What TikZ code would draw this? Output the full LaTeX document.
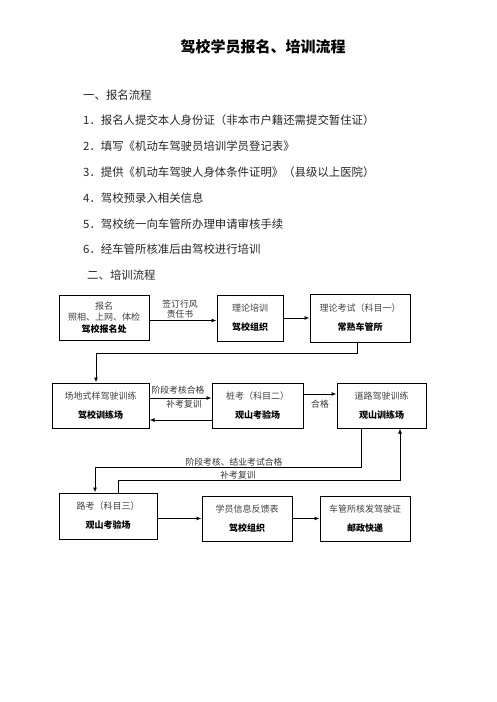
\documentclass[tikz,border=0pt]{standalone}
\usepackage{fontspec}
\setmainfont{Noto Sans CJK SC}
\usetikzlibrary{arrows.meta,positioning}
\tikzset{
  box/.style={draw,rectangle,line width=1pt,inner sep=1pt,align=center,font=\fontsize{9}{11}\selectfont,text=black!75},
  lbl/.style={font=\fontsize{8.8}{10.5}\selectfont,align=center,inner sep=0pt,text=black!80},
  txt/.style={anchor=west,font=\fontsize{11.4}{13}\selectfont,inner sep=0pt,text=black!85},
  arr/.style={-{Latex[length=5pt,width=4pt]},line width=1pt},
  ln/.style={line width=1pt}
}
\newcommand{\bt}[1]{\textbf{\color{black}#1}}

\begin{document}
\begin{tikzpicture}[x=1pt,y=-1pt]
\useasboundingbox (0,0) rectangle (496,702);

\node[font=\fontsize{15}{17}\selectfont\bfseries] (title) at (263,47) {驾校学员报名、培训流程};

\node[txt] (s1) at (83,95) {一、报名流程};
\node[txt] (l1) at (83,120) {1．报名人提交本人身份证（非本市户籍还需提交暂住证）};
\node[txt] (l2) at (83,146) {2．填写《机动车驾驶员培训学员登记表》};
\node[txt] (l3) at (83,172) {3．提供《机动车驾驶人身体条件证明》（县级以上医院）};
\node[txt] (l4) at (83,198) {4．驾校预录入相关信息};
\node[txt] (l5) at (83,224) {5．驾校统一向车管所办理申请审核手续};
\node[txt] (l6) at (83,249) {6．经车管所核准后由驾校进行培训};
\node[txt] (s2) at (87,275) {二、培训流程};

% first row
\node[box,minimum width=90pt,minimum height=45pt] (apply) at (104,317.5) {
报名\\[0.5pt]
照相、上网、体检\\[1pt]
\bt{驾校报名处}
};
\node[box,minimum width=66pt,minimum height=46pt] (theory) at (250,318) {
理论培训\\[8pt]
\bt{驾校组织}
};
\node[box,minimum width=100pt,minimum height=48pt] (exam1) at (360,318) {
理论考试（科目一）\\[8pt]
\bt{常熟车管所}
};

% second row
\node[box,minimum width=97pt,minimum height=45pt] (field) at (100.5,405.5) {
场地式样驾驶训练\\[8pt]
\bt{驾校训练场}
};
\node[box,minimum width=91pt,minimum height=45pt] (exam2) at (257.5,405.5) {
桩考（科目二）\\[8pt]
\bt{观山考验场}
};
\node[box,minimum width=89pt,minimum height=45pt] (road) at (381.5,405.5) {
道路驾驶训练\\[8pt]
\bt{观山训练场}
};

% third row
\node[box,minimum width=98pt,minimum height=46pt] (exam3) at (108,516) {
路考（科目三）\\[8pt]
\bt{观山考验场}
};
\node[box,minimum width=90pt,minimum height=45pt] (feedback) at (247,518.5) {
学员信息反馈表\\[8pt]
\bt{驾校组织}
};
\node[box,minimum width=90pt,minimum height=45pt] (license) at (365,518.5) {
车管所核发驾驶证\\[8pt]
\bt{邮政快递}
};

\draw[arr] ([yshift=-3pt]apply.east) -- ([yshift=-3pt]apply.east -| theory.west);
\draw[arr] (theory.east) -- (theory.east -| exam1.west);
\node[lbl] (sign) at (180,309) {签订行风\\责任书};

\draw[arr] ([xshift=-3pt]exam1.south) -- ++(0,11) -| ([xshift=-4.5pt]field.north);

\draw[arr] ([yshift=7.5pt]field.east) -- ([yshift=7.5pt]exam2.west);
\draw[arr] ([yshift=-14.5pt]exam2.west) -- ([yshift=-14.5pt]field.east);
\node[lbl] (pass1) at (178,390) {阶段考核合格};
\node[lbl] (redo1) at (184,404) {补考复训};

\draw[arr] ([yshift=11.5pt]exam2.east) -- ([yshift=11.5pt]road.west);
\node[lbl] (pass2) at (320,404) {合格};

\draw[arr] ([xshift=-20.5pt]road.south) -- ++(0,39) -| ([xshift=-13pt]exam3.north);
\node[lbl] (pass3) at (234,462) {阶段考核、结业考试合格};
\draw[arr] ([xshift=10pt]exam3.north) -- ++(0,-12) -| ([xshift=18.5pt]road.south);
\node[lbl] (redo2) at (238,475) {补考复训};

\draw[arr] (exam3.east |- feedback.west) -- (feedback.west);
\draw[arr] (feedback.east) -- (license.west);

\end{tikzpicture}
\end{document}
